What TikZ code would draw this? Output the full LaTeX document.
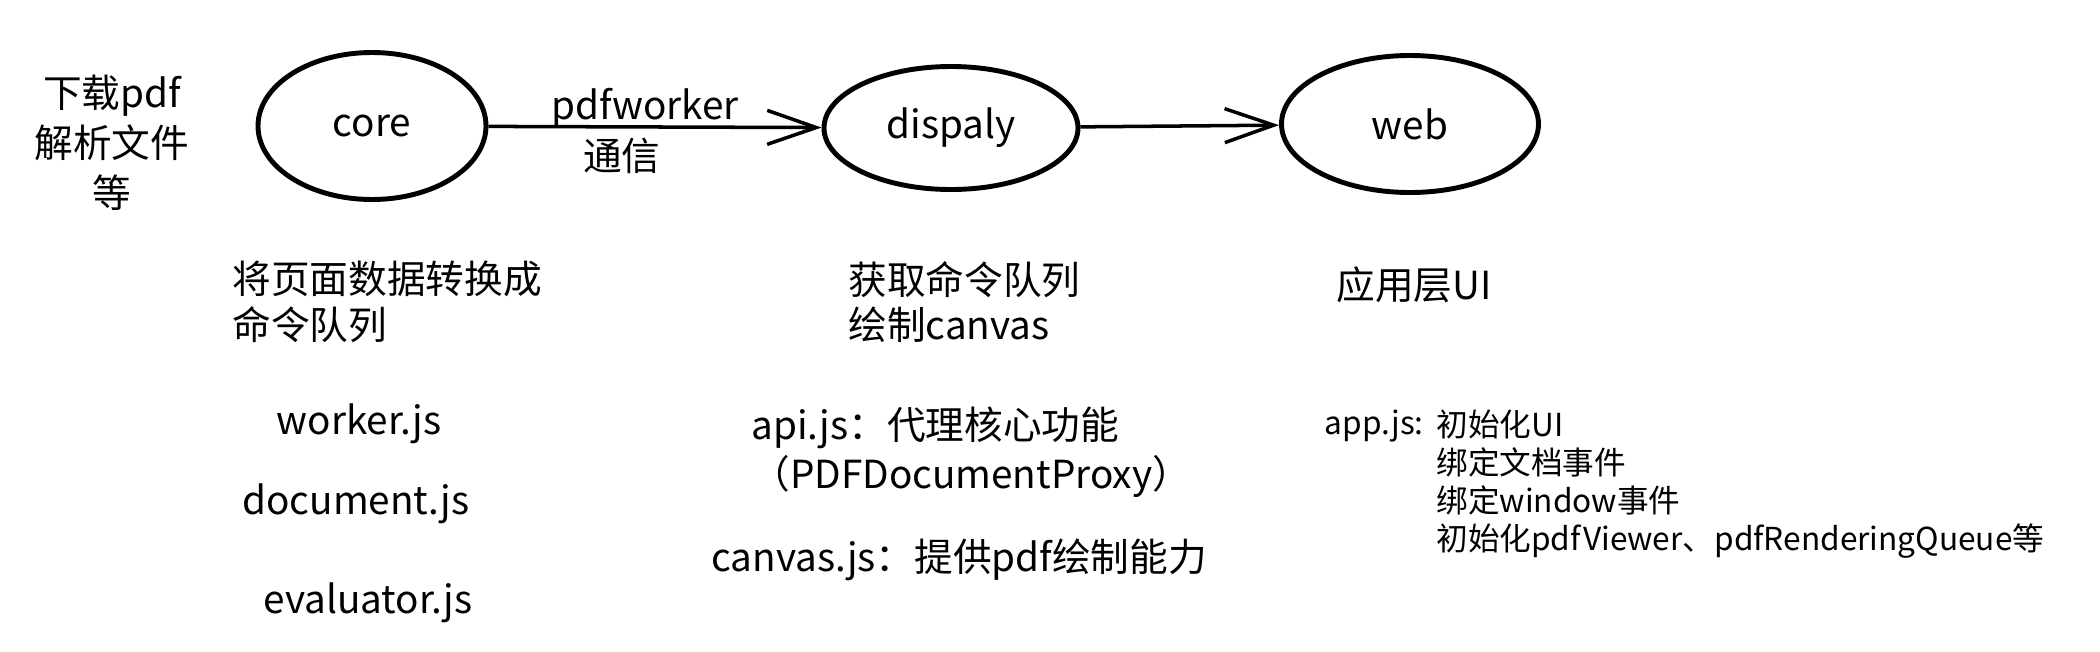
\documentclass[tikz,border=0pt]{standalone}
\usepackage{fontspec}
\setmainfont{Noto Sans CJK SC}
\usetikzlibrary{shapes.geometric}
\usetikzlibrary{arrows.meta}
\usetikzlibrary{positioning}

\begin{document}
\begin{tikzpicture}[
    thick,
    font=\fontsize{11pt}{13pt}\selectfont
]
\tikzset{
    modnode/.style = {ellipse, draw=black, line width=1.4pt, inner sep=0pt},
    notetext/.style = {align=left, inner sep=0pt, anchor=west},
    filetext/.style = {inner sep=0pt},
    edgen/.style = {-{Straight Barb[length=0.49cm,width=0.34cm]}, line width=1pt}
}
\useasboundingbox[fill=white] (0,0) rectangle (21,-6.52);
% modules
\node[modnode, minimum width=2.28cm, minimum height=1.47cm] at (3.72,-1.26) (core) {core};
\node[modnode, minimum width=2.54cm, minimum height=1.23cm] at (9.51,-1.28) (disp) {dispaly};
\node[modnode, minimum width=2.57cm, minimum height=1.37cm] at (14.10,-1.24) (web) {web};
\draw[edgen] (core) edge node[pos=0.47, anchor=base, yshift=0.07cm] {pdfworker} node[pos=0.40, yshift=-0.29cm] {通信} (disp);
\draw[edgen] (disp) edge (web);
% notes
\node[align=center, inner sep=0pt, font=\fontsize{11pt}{14.2pt}\selectfont] at (1.12,-1.43) (dlnote) {下载pdf\\解析文件\\等};
\node[notetext] at (2.31,-3.02) (corenote) {将页面数据转换成\\命令队列};
\node[notetext] at (8.47,-3.02) (dispnote) {获取命令队列\\绘制canvas};
\node[notetext] at (13.35,-2.85) (webnote) {应用层UI};
% files
\node[filetext] at (3.59,-4.24) (workerjs) {worker.js};
\node[filetext] at (3.56,-5.04) (documentjs) {document.js};
\node[filetext] at (3.68,-6.03) (evaluatorjs) {evaluator.js};
\node[notetext, font=\fontsize{11pt}{14pt}\selectfont] at (7.50,-4.52) (apijs) {api.js：代理核心功能\\（PDFDocumentProxy）};
\node[notetext] at (7.10,-5.60) (canvasjs) {canvas.js：提供pdf绘制能力};
\node[notetext, font=\fontsize{9pt}{10.8pt}\selectfont] at (14.35,-4.84) (appnote) {初始化UI\\绑定文档事件\\绑定window事件\\初始化pdfViewer、pdfRenderingQueue等};
\node[filetext, anchor=east, font=\fontsize{9pt}{10.8pt}\selectfont] at (14.25,-4.26) (appjs) {app.js:};
\end{tikzpicture}
\end{document}
